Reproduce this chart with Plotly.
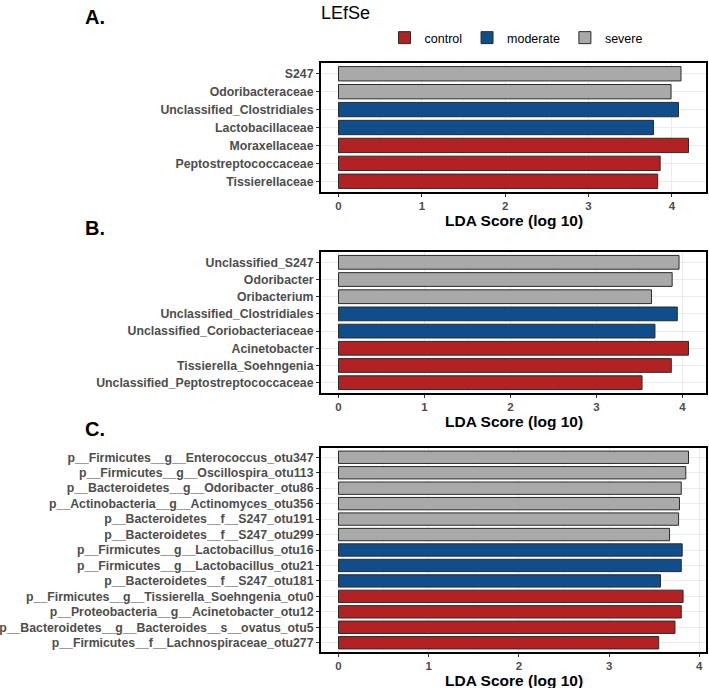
import plotly.graph_objects as go
from plotly.subplots import make_subplots

W, H = 709, 688

# ---------------- data ----------------
group_names = ["control", "moderate", "severe"]
group_colors = ["#B22222", "#104E8B", "#A9A9A9"]

a_labels = ["S247", "Odoribacteraceae", "Unclassified_Clostridiales", "Lactobacillaceae",
            "Moraxellaceae", "Peptostreptococcaceae", "Tissierellaceae"]
a_scores = [4.11, 3.99, 4.08, 3.78, 4.20, 3.86, 3.83]
a_groups = ["severe", "severe", "moderate", "moderate", "control", "control", "control"]

b_labels = ["Unclassified_S247", "Odoribacter", "Oribacterium", "Unclassified_Clostridiales",
            "Unclassified_Coriobacteriaceae", "Acinetobacter", "Tissierella_Soehngenia",
            "Unclassified_Peptostreptococcaceae"]
b_scores = [3.96, 3.88, 3.64, 3.94, 3.68, 4.07, 3.87, 3.53]
b_groups = ["severe", "severe", "severe", "moderate", "moderate", "control", "control", "control"]

c_labels = ["p__Firmicutes__g__Enterococcus_otu347",
            "p__Firmicutes__g__Oscillospira_otu113",
            "p__Bacteroidetes__g__Odoribacter_otu86",
            "p__Actinobacteria__g__Actinomyces_otu356",
            "p__Bacteroidetes__f__S247_otu191",
            "p__Bacteroidetes__f__S247_otu299",
            "p__Firmicutes__g__Lactobacillus_otu16",
            "p__Firmicutes__g__Lactobacillus_otu21",
            "p__Bacteroidetes__f__S247_otu181",
            "p__Firmicutes__g__Tissierella_Soehngenia_otu0",
            "p__Proteobacteria__g__Acinetobacter_otu12",
            "p__Bacteroidetes__g__Bacteroides__s__ovatus_otu5",
            "p__Firmicutes__f__Lachnospiraceae_otu277"]
c_scores = [3.88, 3.85, 3.80, 3.78, 3.77, 3.67, 3.81, 3.80, 3.57, 3.82, 3.80, 3.73, 3.55]
c_groups = ["severe"] * 6 + ["moderate"] * 3 + ["control"] * 4

x_ticks = [0, 1, 2, 3, 4]
panel_tags = ["A.", "B.", "C."]
x_title = "LDA Score (log 10)"
main_title = "LEfSe"

panels = [(a_labels, a_scores, a_groups),
          (b_labels, b_scores, b_groups),
          (c_labels, c_scores, c_groups)]

# ---------------- layout geometry (pixels) ----------------
FONT = "Liberation Sans, Arial, Helvetica, sans-serif"
x_left, x_right = 321, 706
panel_px = [(63, 192), (252, 393), (448, 652)]   # (top, bottom)
tag_y = [17, 228, 429]
title_y = [220, 421, 680]

def px_x(p):
    return p / W

def px_y(p):
    return 1 - p / H

fig = make_subplots(rows=3, cols=1)

for i, (labels, scores, groups) in enumerate(panels):
    for g, col in zip(group_names, group_colors):
        ys = [l for l, gg in zip(labels, groups) if gg == g]
        xs = [s for s, gg in zip(scores, groups) if gg == g]
        fig.add_trace(go.Bar(
            x=xs, y=ys, orientation="h", name=g, legendgroup=g,
            showlegend=(i == 0), width=0.8,
            marker=dict(color=col, line=dict(color="#2b2b2b", width=1)),
            hoverinfo="x+y",
        ), row=i + 1, col=1)

    n = len(labels)
    mx = max(scores)
    xa = "xaxis" if i == 0 else f"xaxis{i + 1}"
    ya = "yaxis" if i == 0 else f"yaxis{i + 1}"
    top, bot = panel_px[i]
    fig.layout[xa].update(
        domain=[px_x(x_left), px_x(x_right)],
        range=[-0.05 * mx, 1.05 * mx], automargin=False,
        tickvals=x_ticks, ticktext=[str(t) for t in x_ticks],
        showgrid=True, gridcolor="#EBEBEB", gridwidth=1,
        minor=dict(dtick=0.5, tick0=0, showgrid=True, gridcolor="#F5F5F5", gridwidth=0.6, ticks=""),
        zeroline=False,
        showline=True, linecolor="black", linewidth=2, mirror=True,
        ticks="outside", ticklen=2.5, tickcolor="#333333", tickwidth=1,
        tickfont=dict(family=FONT, size=11.5, color="#4D4D4D", weight="bold"),
        fixedrange=True,
    )
    fig.layout[ya].update(
        domain=[px_y(bot), px_y(top)], automargin=False,
        type="category", categoryorder="array", categoryarray=labels,
        range=[n - 1 + 0.6, -0.6],
        showgrid=True, gridcolor="#EBEBEB", gridwidth=1,
        zeroline=False,
        showline=True, linecolor="black", linewidth=2, mirror=True,
        ticks="outside", ticklen=3, tickcolor="#333333", tickwidth=1,
        tickfont=dict(family=FONT, size=12.3, color="#4D4D4D", weight="bold"),
        fixedrange=True,
    )

annotations = []
for i in range(3):
    annotations.append(dict(
        text=panel_tags[i], xref="paper", yref="paper",
        x=px_x(83), y=px_y(tag_y[i]), xanchor="left", yanchor="middle",
        showarrow=False, font=dict(family=FONT, size=20, color="black", weight="bold")))
    annotations.append(dict(
        text=x_title, xref="paper", yref="paper",
        x=px_x((x_left + x_right) / 2), y=px_y(title_y[i]), xanchor="center", yanchor="middle",
        showarrow=False, font=dict(family=FONT, size=15.5, color="black", weight="bold")))

fig.update_layout(
    width=W, height=H,
    margin=dict(l=0, r=0, t=0, b=0),
    paper_bgcolor="white", plot_bgcolor="white",
    barmode="overlay", bargap=0.2,
    title=dict(text=main_title, x=px_x(x_left), xanchor="left", xref="paper",
               y=px_y(13), yanchor="middle", yref="paper",
               font=dict(family=FONT, size=18, color="black")),
    legend=dict(orientation="h", x=px_x(516), xanchor="center", y=px_y(38), yanchor="middle",
                font=dict(family=FONT, size=12.5, color="black"),
                itemwidth=30, traceorder="normal", bgcolor="rgba(0,0,0,0)"),
    annotations=annotations,
    showlegend=True,
)

fig.write_html("out.html", config={"displayModeBar": False},
               post_script="document.body.style.margin='0';document.body.style.overflow='hidden';")
